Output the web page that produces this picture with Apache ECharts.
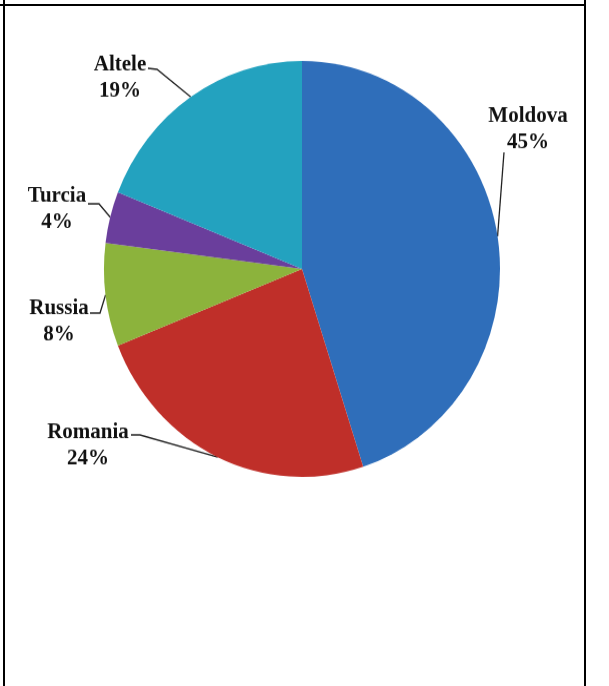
<!DOCTYPE html>
<html>
<head>
<meta charset="utf-8">
<script src="https://cdn.jsdelivr.net/npm/echarts@6/dist/echarts.min.js"></script>
<style>
  html, body { margin: 0; padding: 0; background: #fff; }
  body { width: 609px; height: 686px; position: relative; overflow: hidden; }
  #chart { position: absolute; left: 0; top: 0; width: 609px; height: 653px;
           transform: scaleY(1.0505); transform-origin: 0 0; }
  .rule { position: absolute; background: #000; }
</style>
</head>
<body>
<div id="chart"></div>
<div class="rule" style="left:0;top:4px;width:586px;height:2px;"></div>
<div class="rule" style="left:3px;top:0;width:2px;height:686px;"></div>
<div class="rule" style="left:584px;top:0;width:2px;height:686px;"></div>
<script>
// Export shares by destination (%)
const countries = ['Moldova', 'Romania', 'Russia', 'Turcia', 'Altele'];
const shares = [45, 24, 8, 4, 19];
const colors = ['#2F6EBA', '#BF2F29', '#8CB33C', '#6A3E9C', '#23A2BF'];

// Where each label sits and where its leader line bends
const labelSpots = {
  Moldova: { x: 528, y: 123, knee: [504, 145], end: [504, 145] },
  Romania: { x: 88,  y: 424, knee: [140, 414], end: [131, 414] },
  Russia:  { x: 59,  y: 306, knee: [100, 298], end: [90, 298] },
  Turcia:  { x: 57,  y: 199, knee: [99, 194],  end: [88, 194] },
  Altele:  { x: 120, y: 74,  knee: [157, 66],  end: [148, 65] }
};

const chart = echarts.init(document.getElementById('chart'), null, { renderer: 'canvas' });

chart.setOption({
  animation: false,
  series: [{
    type: 'pie',
    center: [302, 256],
    radius: [0, 198],
    startAngle: 90,
    clockwise: true,
    avoidLabelOverlap: false,
    data: countries.map((name, i) => ({
      name,
      value: shares[i],
      itemStyle: { color: colors[i] }
    })),
    itemStyle: { borderWidth: 0 },
    label: {
      show: true,
      formatter: '{b}\n{c}%',
      fontFamily: '"Liberation Serif", "Times New Roman", serif',
      fontWeight: 'bold',
      fontSize: 21,
      lineHeight: 25,
      color: '#111',
      align: 'center'
    },
    labelLine: {
      show: true,
      lineStyle: { color: '#222', width: 1.3 }
    },
    labelLayout: function (params) {
      const spot = labelSpots[countries[params.dataIndex]];
      const edge = params.labelLinePoints[0];
      return {
        x: spot.x,
        y: spot.y,
        align: 'center',
        verticalAlign: 'middle',
        labelLinePoints: [edge, spot.knee, spot.end]
      };
    }
  }]
});
</script>
</body>
</html>
